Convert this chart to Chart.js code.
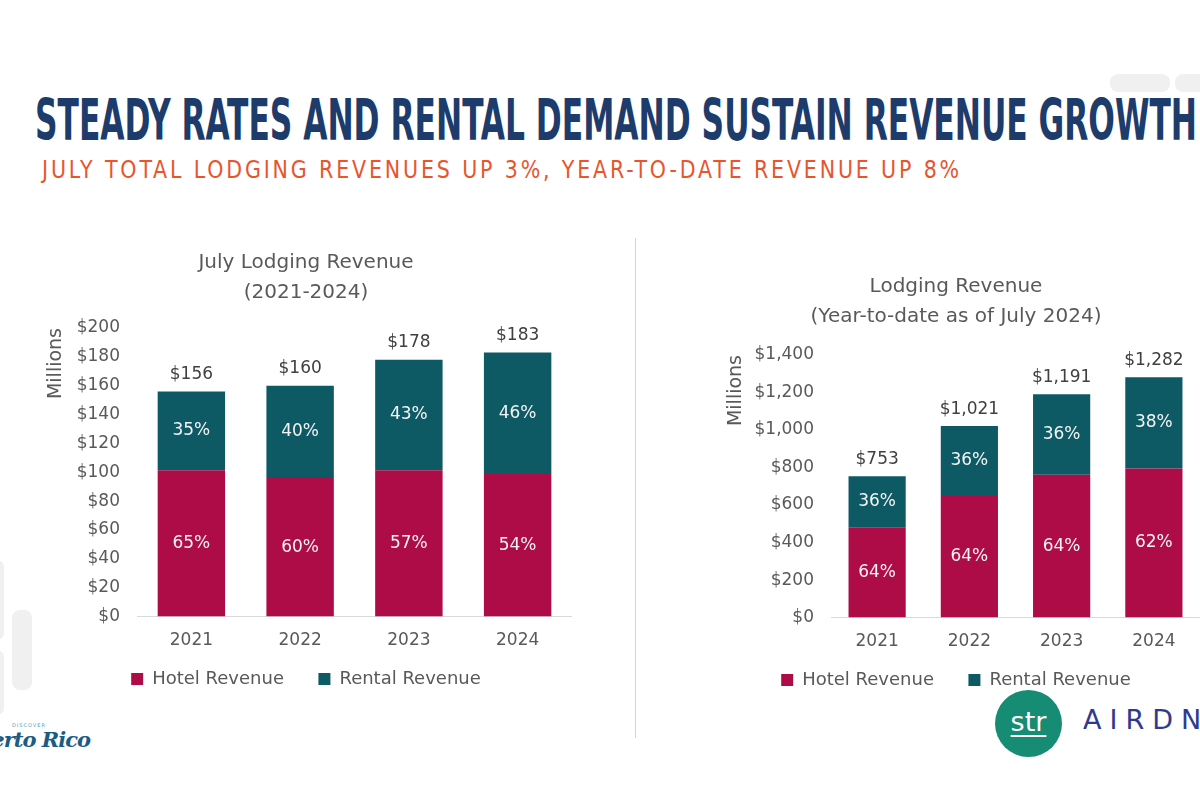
<!DOCTYPE html>
<html><head><meta charset="utf-8">
<script src="https://cdn.jsdelivr.net/npm/chart.js@4.4.1/dist/chart.umd.min.js"></script>
<style>
html,body{margin:0;padding:0;width:1200px;height:800px;overflow:hidden;background:#fff;position:relative;font-family:"DejaVu Sans",sans-serif}
#title{position:absolute;left:35px;top:92px;font-family:"DejaVu Sans Condensed","Liberation Sans",sans-serif;font-weight:bold;font-size:57px;line-height:57px;color:#1D3C6B;white-space:nowrap;transform-origin:0 0}
#subtitle{position:absolute;left:42px;top:158px;font-family:"DejaVu Sans Condensed","Liberation Sans",sans-serif;font-size:24px;line-height:24px;color:#E8552D;white-space:nowrap;transform-origin:0 0;letter-spacing:3px}
.wrap{position:absolute}
#w1{left:40px;top:240px;width:532px;height:458px}
#w2{left:712px;top:265px;width:488px;height:434px}
#divider{position:absolute;left:635px;top:238px;width:1px;height:500px;background:#d4d4d4}
.deco{position:absolute;background:#f0f0f0;border-radius:8px}
#str{position:absolute;left:995px;top:690px;width:67px;height:67px;border-radius:50%;background:#178C74;color:#fff;font-size:27px;line-height:64px;text-align:center;font-family:"DejaVu Sans",sans-serif}
#str span{text-decoration:underline;text-decoration-thickness:2px;text-underline-offset:4px}
#airdna{position:absolute;left:1083px;top:704px;font-size:27px;letter-spacing:8px;color:#2F3A8F;font-family:"DejaVu Sans",sans-serif;white-space:nowrap}
#pr{position:absolute;right:1110px;top:727px;font-family:"DejaVu Serif",serif;font-style:italic;font-weight:bold;font-size:21px;color:#1B5C86;white-space:nowrap;letter-spacing:-1px}
#prsmall{position:absolute;left:12px;top:722px;font-size:5px;color:#4FA7B0;letter-spacing:1px}
</style></head><body>
<div class="deco" style="left:1110px;top:74px;width:60px;height:18px"></div>
<div class="deco" style="left:1175px;top:74px;width:40px;height:18px"></div>
<div class="deco" style="left:-10px;top:560px;width:14px;height:80px"></div>
<div class="deco" style="left:12px;top:610px;width:20px;height:80px"></div>
<div class="deco" style="left:-10px;top:650px;width:14px;height:65px"></div>
<div id="title">STEADY RATES AND RENTAL DEMAND SUSTAIN REVENUE GROWTH</div>
<div id="subtitle">JULY TOTAL LODGING REVENUES UP 3%, YEAR-TO-DATE REVENUE UP 8%</div>
<div id="divider"></div>
<div class="wrap" id="w1"><canvas id="c1"></canvas></div>
<div class="wrap" id="w2"><canvas id="c2"></canvas></div>
<div id="str"><span>str</span></div>
<div id="airdna">AIRDNA</div>
<div id="prsmall">DISCOVER</div>
<div id="pr">Puerto Rico</div>
<script>
// ---- data ----
const years = ['2021', '2022', '2023', '2024'];
const seriesNames = ['Hotel Revenue', 'Rental Revenue'];
const julyTotals = [156, 160, 178, 183];
const julyHotelPct = [65, 60, 57, 54];
const julyRentalPct = [35, 40, 43, 46];
const ytdTotals = [753, 1021, 1191, 1282];
const ytdHotelPct = [64, 64, 64, 62];
const ytdRentalPct = [36, 36, 36, 38];
const julyTitle = ['July Lodging Revenue', '(2021-2024)'];
const ytdTitle = ['Lodging Revenue', '(Year-to-date as of July 2024)'];
const julyAxisMax = 200, julyAxisStep = 20;
const ytdAxisMax = 1400, ytdAxisStep = 200;
const yAxisLabel = 'Millions';

// fit title widths
function fit(id, w) {
  const el = document.getElementById(id);
  const r = el.getBoundingClientRect().width;
  el.style.transform = 'scaleX(' + (w / r) + ')';
}
fit('title', 1162);
fit('subtitle', 920);

const HOTEL = '#AD0C47';
const RENTAL = '#0D5A65';
const GREY = '#595959';

const labelPlugin = {
  id: 'labels',
  afterDatasetsDraw(chart) {
    const ctx = chart.ctx;
    const pcts = chart.options.plugins.labels.pcts;
    const totals = chart.options.plugins.labels.totals;
    ctx.save();
    ctx.textAlign = 'center';
    ctx.textBaseline = 'middle';
    ctx.font = '17px "DejaVu Sans"';
    chart.data.datasets.forEach((ds, di) => {
      const meta = chart.getDatasetMeta(di);
      meta.data.forEach((bar, i) => {
        ctx.fillStyle = '#f4f4f4';
        ctx.fillText(pcts[di][i] + '%', bar.x, (bar.y + bar.base) / 2);
      });
    });
    const top = chart.getDatasetMeta(chart.data.datasets.length - 1);
    ctx.fillStyle = '#404040';
    top.data.forEach((bar, i) => {
      ctx.fillText('$' + totals[i].toLocaleString('en-US'), bar.x, bar.y - 17);
    });
    ctx.restore();
  }
};

function makeChart(id, totals, hp, rp, max, step, title, yw, yTitlePad, titlePad) {
  const hotel = totals.map((t, i) => t * hp[i] / 100);
  const rental = totals.map((t, i) => t - hotel[i]);
  return new Chart(document.getElementById(id), {
    type: 'bar',
    data: {
      labels: years,
      datasets: [
        { label: seriesNames[0], data: hotel, backgroundColor: HOTEL, borderWidth: 0, barPercentage: 0.62, categoryPercentage: 1 },
        { label: seriesNames[1], data: rental, backgroundColor: RENTAL, borderWidth: 0, barPercentage: 0.62, categoryPercentage: 1 }
      ]
    },
    options: {
      responsive: true,
      maintainAspectRatio: false,
      animation: false,
      layout: { padding: 0 },
      plugins: {
        title: { display: true, text: title, color: GREY, font: { family: '"DejaVu Sans"', size: 20, weight: 'normal', lineHeight: 1.5 }, padding: titlePad },
        legend: {
          position: 'bottom',
          labels: {
            color: GREY, boxWidth: 12, boxHeight: 12, padding: 5,
            font: { family: '"DejaVu Sans"', size: 18 },
            generateLabels: c => {
              const items = Chart.defaults.plugins.legend.labels.generateLabels(c);
              items.forEach((it, k) => { if (k < items.length - 1) it.text = it.text + '\u2003  '; });
              return items;
            }
          }
        },
        tooltip: { enabled: false },
        labels: { pcts: [hp, rp], totals: totals }
      },
      scales: {
        x: {
          stacked: true,
          grid: { display: false, drawTicks: false },
          border: { display: true, color: '#d9d9d9' },
          ticks: { color: GREY, padding: 14, font: { family: '"DejaVu Sans"', size: 17 } }
        },
        y: {
          stacked: true,
          min: 0, max: max,
          grid: { display: false, drawTicks: false },
          border: { display: false },
          ticks: { stepSize: step, color: GREY, padding: 17, font: { family: '"DejaVu Sans"', size: 17 },
            callback: v => '$' + v.toLocaleString('en-US') },
          title: { display: true, text: yAxisLabel, align: 'end', color: GREY, padding: { top: yTitlePad, bottom: 0 }, font: { family: '"DejaVu Sans"', size: 19 } },
          afterFit: s => { s.width = yw; }
        }
      }
    },
    plugins: [labelPlugin]
  });
}

makeChart('c1', julyTotals, julyHotelPct, julyRentalPct, julyAxisMax, julyAxisStep, julyTitle, 97, 5, { top: 8, bottom: 20 });
makeChart('c2', ytdTotals, ytdHotelPct, ytdRentalPct, ytdAxisMax, ytdAxisStep, ytdTitle, 119, 13, { top: 7, bottom: 23 });
</script>
</body></html>
